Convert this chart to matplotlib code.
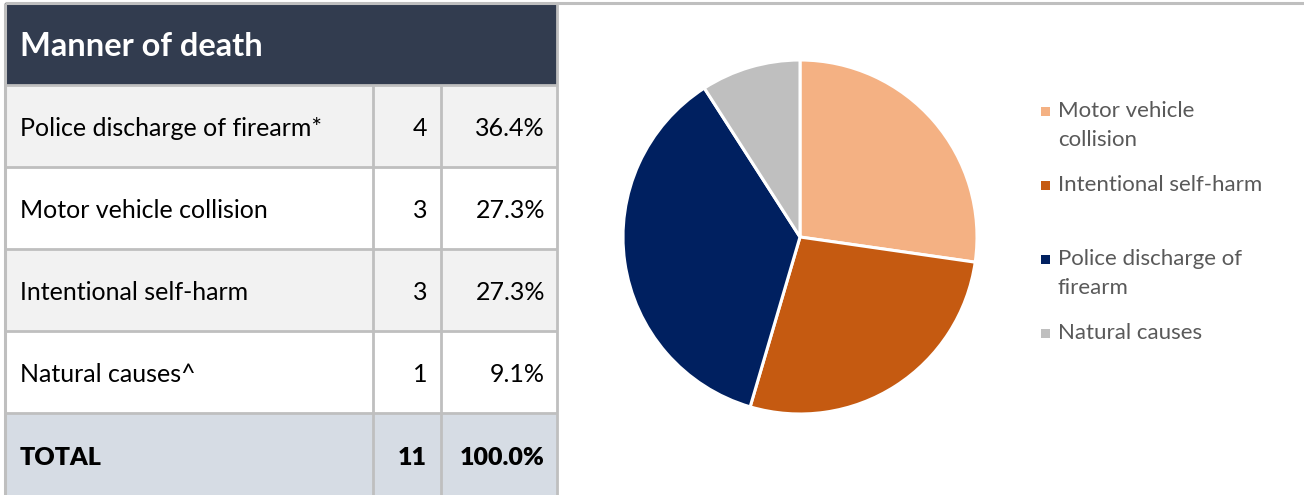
import matplotlib.pyplot as plt
from matplotlib.patches import Rectangle

# table data
row_labels = ['Police discharge of firearm*', 'Motor vehicle collision',
              'Intentional self-harm', 'Natural causes^']
row_counts = [4, 3, 3, 1]
row_pcts = ['36.4%', '27.3%', '27.3%', '9.1%']
total_count = 11
total_pct = '100.0%'

# pie data (clockwise from 12 o'clock)
pie_labels = ['Motor vehicle\ncollision', 'Intentional self-harm',
              'Police discharge of\nfirearm', 'Natural causes']
pie_values = [3, 3, 4, 1]
pie_colors = ['#F4B183', '#C55A11', '#002060', '#BFBFBF']

plt.rcParams['font.family'] = ['Lato', 'DejaVu Sans']

W, H = 1304, 495
fig = plt.figure(figsize=(W / 100, H / 100), dpi=100)

# full-figure axes in pixel coords for the table
ax = fig.add_axes([0, 0, 1, 1])
ax.set_xlim(0, W)
ax.set_ylim(H, 0)
ax.axis('off')

grid = '#BFBFBF'
x0, x1, x2, x3 = 5, 373, 441, 557
top, head_bot, row_h = 3, 85, 82
fs = 18

# outer frame lines
ax.plot([x0, W], [top, top], color=grid, lw=2.2, solid_capstyle='butt')
ax.plot([x0, x0], [top, H], color=grid, lw=2.2, solid_capstyle='butt')

# header
ax.add_patch(Rectangle((x0, top), x3 - x0, head_bot - top, color='#323C4F', lw=0))
ax.text(20, 46, 'Manner of death', color='white', fontsize=23.5,
        fontweight='bold', va='center', ha='left')

fills = ['#F2F2F2', '#FFFFFF', '#F2F2F2', '#FFFFFF']
for i, (lab, cnt, pct) in enumerate(zip(row_labels, row_counts, row_pcts)):
    y = head_bot + i * row_h
    ax.add_patch(Rectangle((x0, y), x3 - x0, row_h, facecolor=fills[i],
                           edgecolor='none'))
    yc = y + row_h / 2 + 2
    ax.text(20, yc, lab, fontsize=fs, va='center', ha='left', color='black')
    ax.text(x2 - 14, yc, str(cnt), fontsize=fs, va='center', ha='right', color='black')
    ax.text(x3 - 12, yc, pct, fontsize=fs, va='center', ha='right', color='black')

# total row
yt = head_bot + len(row_labels) * row_h
ax.add_patch(Rectangle((x0, yt), x3 - x0, H - yt, facecolor='#D6DCE4', edgecolor='none'))
ytc = yt + row_h / 2 + 4
ax.text(20, ytc, 'TOTAL', fontsize=fs, fontweight='heavy', va='center', ha='left')
ax.text(x2 - 14, ytc, str(total_count), fontsize=fs, fontweight='heavy', va='center', ha='right')
ax.text(x3 - 12, ytc, total_pct, fontsize=fs, fontweight='heavy', va='center', ha='right')

# grid lines
for i in range(len(row_labels) + 1):
    y = head_bot + i * row_h
    ax.plot([x0, x3], [y, y], color=grid, lw=2, solid_capstyle='butt')
for x in (x1, x2):
    ax.plot([x, x], [head_bot, H], color=grid, lw=2, solid_capstyle='butt')
ax.plot([x3, x3], [top, H], color=grid, lw=2, solid_capstyle='butt')

# pie
cx, cy, r = 800, 237, 177
pax = fig.add_axes([(cx - r) / W, (H - cy - r) / H, 2 * r / W, 2 * r / H])
pax.pie(pie_values, colors=pie_colors, startangle=90, counterclock=False,
        wedgeprops=dict(edgecolor='white', linewidth=2.2))
pax.set_xlim(-1.0, 1.0)
pax.set_ylim(-1.0, 1.0)

# legend: one slot per entry, wrapped lines 29px apart
for i, (lab, col) in enumerate(zip(pie_labels, pie_colors)):
    y = 111 + i * 74
    ax.add_patch(Rectangle((1041, y - 4.5), 9, 9, color=col, lw=0))
    for k, line in enumerate(lab.split('\n')):
        ax.text(1058, y + k * 29, line, fontsize=16, color='#595959',
                va='center', ha='left')

fig.savefig('out.png', dpi=100)
